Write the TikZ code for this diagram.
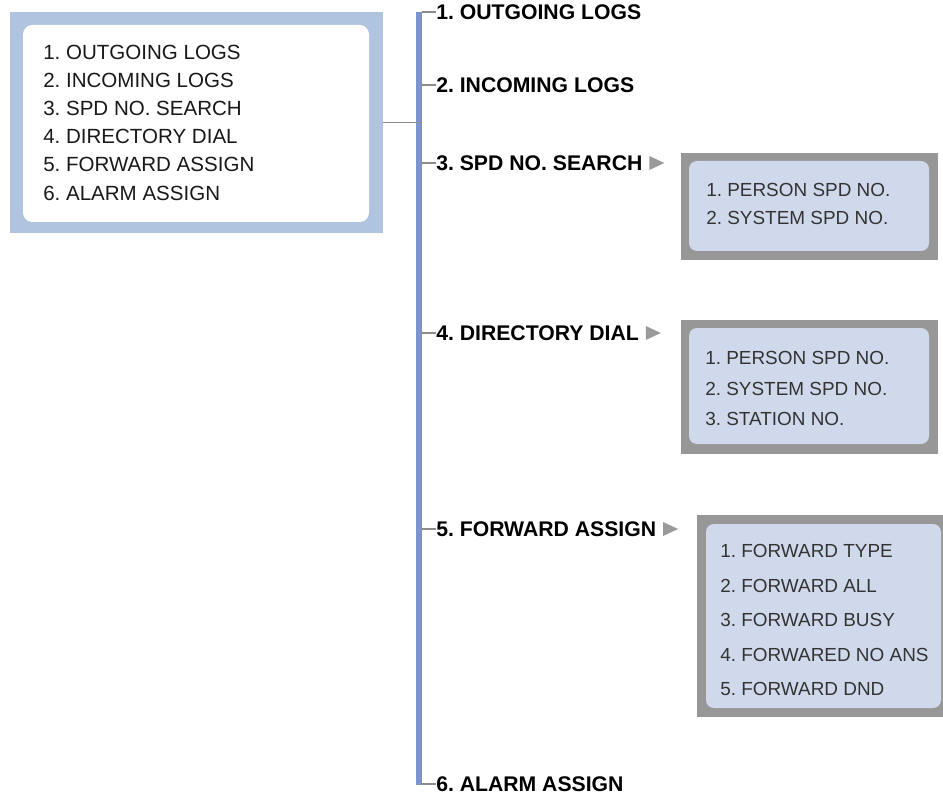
\documentclass[tikz,border=0pt]{standalone}
\usepackage{fontspec}
\setmainfont{Liberation Sans}
\usetikzlibrary{positioning}
\definecolor{framblue}{RGB}{176,196,224}
\definecolor{barblue}{RGB}{123,147,208}
\definecolor{tickgrey}{RGB}{140,140,140}
\definecolor{subfrm}{RGB}{151,151,151}
\definecolor{subfill}{RGB}{208,217,236}
\definecolor{arrgrey}{RGB}{154,154,154}
\definecolor{subtext}{RGB}{51,51,51}
\frenchspacing

\begin{document}
\begin{tikzpicture}[x=0.75pt, y=-0.75pt,
	every node/.style={inner sep=0pt, anchor=west},
	menutxt/.style={font=\fontsize{15.4}{18}\selectfont, text=black!90},
	headtxt/.style={font=\fontsize{15.9}{19}\selectfont\bfseries},
	subtxt/.style={font=\fontsize{14.2}{17}\selectfont, text=subtext},
	tick/.style={draw=tickgrey, line width=1pt}]
	\useasboundingbox (0,0) rectangle (943,795);
	% main menu
	\node[fill=framblue, minimum width=279.75pt, minimum height=165.75pt, anchor=center] (menu) at (196.5,122.5) {};
	\node[fill=white, rounded corners=7pt, minimum width=259.5pt, minimum height=147.75pt, anchor=center] (menuin) at (196,123.5) {};
	\foreach \t [count=\i] in {1. OUTGOING LOGS, 2. INCOMING LOGS, 3. SPD NO. SEARCH, 4. DIRECTORY DIAL, 5. FORWARD ASSIGN, 6. ALARM ASSIGN}
		\node[menutxt] (m\i) at (43,{52+28.2*(\i-1)}) {\t};
	% spine
	\coordinate (spinetop) at (421.5,12);
	\coordinate (spinebot) at (421.5,785);
	\fill[barblue] (416,12) rectangle (421,785);
	\draw[tick] (spinetop) -- (spinebot);
	\draw[tick] (menu.east) -- (menu.east -| spinetop);
	% entries
	\node[headtxt] (l1) at (436,12) {1. OUTGOING LOGS};
	\node[headtxt] (l2) at (436,85) {2. INCOMING LOGS};
	\node[headtxt] (l3) at (436,163) {3. SPD NO. SEARCH};
	\node[headtxt] (l4) at (436,333) {4. DIRECTORY DIAL};
	\node[headtxt] (l5) at (436,529) {5. FORWARD ASSIGN};
	\node[headtxt] (l6) at (436,784) {6. ALARM ASSIGN};
	\foreach \i in {1,...,6}
		\draw[tick] (l\i.west -| spinetop) -- (l\i.west);
	\foreach \i in {3,4,5}
		\fill[arrgrey] ([xshift=5pt]l\i.east) ++(0,5.25pt) -- ++(11.25pt,-5.25pt) -- ++(-11.25pt,-5.25pt) -- cycle;
	% submenu of 3
	\fill[subfrm] (681,153) rectangle (938,260);
	\fill[subfill, rounded corners=6pt] (689,161) rectangle (929,251);
	\foreach \t [count=\i] in {1. PERSON SPD NO., 2. SYSTEM SPD NO.}
		\node[subtxt] (sa\i) at (706,{190+28*(\i-1)}) {\t};
	% submenu of 4
	\fill[subfrm] (681,320) rectangle (938,454);
	\fill[subfill, rounded corners=6pt] (689,328) rectangle (929,444);
	\foreach \t [count=\i] in {1. PERSON SPD NO., 2. SYSTEM SPD NO., 3. STATION NO.}
		\node[subtxt] (sb\i) at (705,{358+30.5*(\i-1)}) {\t};
	% submenu of 5
	\fill[subfrm] (697,515) rectangle (943,717);
	\fill[subfill, rounded corners=6pt] (706,524) rectangle (941,708);
	\foreach \t [count=\i] in {1. FORWARD TYPE, 2. FORWARD ALL, 3. FORWARD BUSY, 4. FORWARED NO ANS, 5. FORWARD DND}
		\node[subtxt] (sc\i) at (720,{551+34.5*(\i-1)}) {\t};
\end{tikzpicture}
\end{document}
